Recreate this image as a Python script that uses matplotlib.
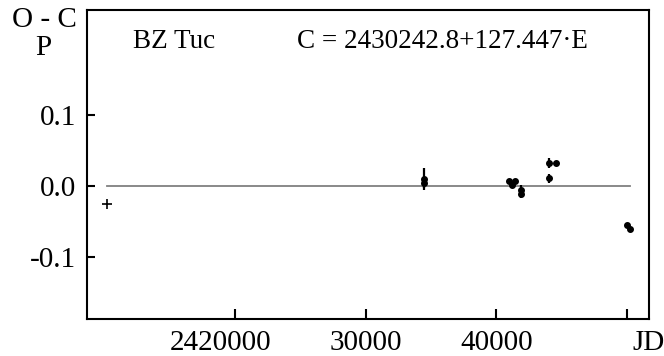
import matplotlib
matplotlib.use("Agg")
import matplotlib.pyplot as plt
from matplotlib.transforms import blended_transform_factory, offset_copy

plt.rcParams['font.family'] = ['Liberation Serif', 'DejaVu Serif']

# --- data ---
jd_plus = [2410200]
oc_plus = [-0.025]

jd_dots = [2434460, 2434460, 2440970, 2441430, 2441200, 2441880, 2441880,
           2444020, 2444020, 2444560, 2450000, 2450230]
oc_dots = [0.010, 0.004, 0.007, 0.007, 0.002, -0.005, -0.011,
           0.033, 0.011, 0.033, -0.054, -0.060]
oc_err = [0.015, 0.006, 0.003, 0.003, 0.003, 0.007, 0.006,
          0.007, 0.006, 0.0, 0.0, 0.0]

xticks = [2420000, 2430000, 2440000, 2450000]
xtick_labels = ["2420000", "30000", "40000", ""]
yticks = [-0.1, 0.0, 0.1]
ytick_labels = ["-0.1", "0.0", "0.1"]

star_name = "BZ Tuc"
ephemeris = "C = 2430242.8+127.447\u00b7E"

FS = 21

fig = plt.figure(figsize=(6.64, 3.56), dpi=100)
ax = fig.add_axes([87/664, 1 - 319/356, (649-87)/664, (319-10)/356])

ax.set_xlim(2408676, 2451683)
ax.set_ylim(-0.187, 0.248)

# zero line
ax.plot([min(jd_plus + jd_dots), max(jd_plus + jd_dots)], [0, 0],
        color='#808080', lw=1.3, zorder=1)

ax.plot(jd_plus, oc_plus, marker='+', ls='none', color='black', ms=7, mew=1.2)
ax.errorbar(jd_dots, oc_dots, yerr=oc_err, fmt='o', color='black', ms=4,
            elinewidth=1.6, capsize=0, zorder=3)

for s in ax.spines.values():
    s.set_linewidth(1.5)

ax.set_xticks(xticks)
ax.set_xticklabels([])
ax.set_yticks(yticks)
ax.set_yticklabels(ytick_labels, fontsize=FS)
ax.tick_params(axis='x', direction='in', length=7, width=1.5, bottom=True, top=False)
ax.tick_params(axis='y', direction='in', length=6, width=1.5, left=True, right=False, pad=8)

# x tick labels drawn manually ("20000" part of the first label centered on tick)
tr = blended_transform_factory(ax.transData, ax.transAxes)
for x, lab in zip(xticks, xtick_labels):
    if not lab:
        continue
    if len(lab) > 5:
        t = offset_copy(tr, fig=fig, x=1.25 * FS, y=0, units='points')
        ax.text(x, -0.035, lab, transform=t, ha='right', va='top', fontsize=FS)
    else:
        ax.text(x, -0.035, lab, transform=tr, ha='center', va='top', fontsize=FS)
ax.text(1.0, -0.035, "JD", transform=ax.transAxes, ha='center', va='top', fontsize=FS)

# y axis label
fig.text(44/664, 1 - 20/356, "O - C", ha='center', va='center', fontsize=FS)
fig.text(43/664, 1 - 48/356, "P", ha='center', va='center', fontsize=FS)

# annotations
ax.text(133/664, 1 - 41/356, star_name, transform=fig.transFigure,
        ha='left', va='center', fontsize=19.5)
ax.text(297/664, 1 - 41/356, ephemeris, transform=fig.transFigure,
        ha='left', va='center', fontsize=19.5)

fig.savefig("out.png", dpi=100)
